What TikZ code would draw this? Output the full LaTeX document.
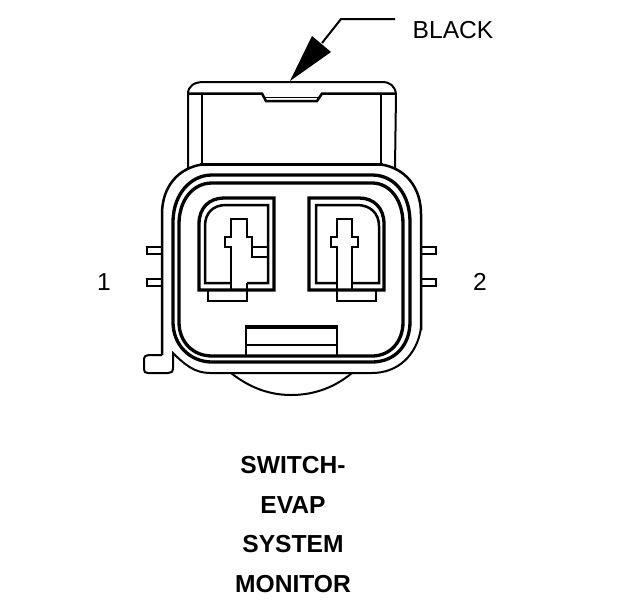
\documentclass[tikz,border=0pt]{standalone}
\usepackage{fontspec}
\setmainfont{Liberation Sans}
\tikzset{
  thinl/.style={line width=2pt,line join=miter,black},
  midl/.style={line width=2.5pt,line join=miter,black},
  thickl/.style={line width=3.3pt,line join=miter,black},
  lbl/.style={font=\fontsize{24.6}{24.6}\selectfont,inner sep=0pt,anchor=center},
  blbl/.style={font=\fontsize{24.6}{24.6}\selectfont\bfseries,inner sep=0pt,anchor=center}
}
\begin{document}
\begin{tikzpicture}[x=1pt,y=-1pt]
\useasboundingbox (0,0) rectangle (624,600);
% strap
\draw[thinl] (188,168) -- (188,94) .. controls (188,86) and (194,82) .. (204,82) -- (382,82) .. controls (390,82) and (395,86) .. (396,94) -- (395,168);
\draw[midl] (188,93.5) -- (262,93.5) -- (266,101) -- (317,101) -- (322,93.5) -- (396,93.5);
\draw[line width=1.5pt,black] (265,97.3) -- (318,97.3);
\draw[thinl] (202,93) -- (202,165);
\draw[thinl] (381,93) -- (381,165);
% outer body
\draw[midl] (162,355) -- (162,214) .. controls (162,187) and (178,168) .. (202,164.5);
\draw[midl] (421,330) -- (421,214) .. controls (421,187) and (405,168) .. (381,164.5);
\draw[thickl] (200,164.5) -- (383,164.5);
\draw[thinl] (421,328) .. controls (417,355) and (398,373) .. (372,373) -- (210,373) .. controls (195,373) and (185,365) .. (173,353) -- (173,368) .. controls (173,372) and (171,373) .. (168,373) -- (148,373) .. controls (145,373) and (144,372) .. (144,369) -- (144,360) .. controls (144,356) and (146,355) .. (149,355) -- (162,355);
% arc below
\draw[thinl] (231,373) .. controls (250,388) and (270,395) .. (291,395) .. controls (315,395) and (335,387) .. (352,373);
% rings
\draw[thickl] (173,222) .. controls (173,195) and (190,175) .. (212,175) -- (372,175) .. controls (395,175) and (410,195) .. (410,222) -- (410,322) .. controls (410,345) and (395,362) .. (372,362) -- (212,362) .. controls (190,362) and (173,345) .. (173,322) -- cycle;
\draw[thickl] (179,224) .. controls (179,200) and (193,183) .. (212,183) -- (372,183) .. controls (390,183) and (403,200) .. (403,224) -- (403,322) .. controls (403,342) and (390,356) .. (372,356) -- (212,356) .. controls (193,356) and (179,342) .. (179,322) -- cycle;
% side tabs
\draw[thinl] (162,247) -- (147,247) -- (147,254) -- (162,254);
\draw[thinl] (162,279) -- (147,279) -- (147,286) -- (162,286);
\draw[thinl] (421,247) -- (436,247) -- (436,254) -- (421,254);
\draw[thinl] (421,279) -- (436,279) -- (436,286) -- (421,286);
% left cavity
\draw[thickl] (199,290) -- (199,224) .. controls (199,208) and (209,198) .. (224,198) -- (274,198) -- (274,290) -- cycle;
\draw[midl] (231,283) -- (205,283) -- (205,226) .. controls (205,213) and (213,205) .. (226,205) -- (268,205) -- (268,283) -- (247,283);
\draw[midl] (231,290) -- (231,247) -- (225,247) -- (225,237) -- (231,237) -- (231,219) -- (247,219) -- (247,237) -- (252,237) -- (252,247) -- (268,247);
\draw[thinl] (252,247) -- (252,257) -- (268,257);
\draw[thinl] (247,283) -- (247,301) -- (208,301) -- (208,290);
% right cavity
\draw[thickl] (309,290) -- (309,198) -- (359,198) .. controls (374,198) and (384,208) .. (384,224) -- (384,290) -- cycle;
\draw[midl] (337,283) -- (316,283) -- (316,205) -- (357,205) .. controls (370,205) and (379,213) .. (379,226) -- (379,283) -- (352,283);
\draw[midl] (337,290) -- (337,247) -- (331,247) -- (331,237) -- (337,237) -- (337,219) -- (352,219) -- (352,237) -- (358,237) -- (358,247) -- (352,247) -- (352,290);
\draw[thinl] (337,290) -- (337,301) -- (376,301) -- (376,290);
% centre block
\draw[thinl] (246,356) -- (246,327);
\draw[thinl] (337,356) -- (337,327);
\draw[thickl] (245,327) -- (338,327);
\draw[thinl] (246,345) -- (337,345);
% arrow
\fill[black] (290,81) -- (312,36) -- (331,52) -- cycle;
\draw[thinl] (322,43) -- (341,19) -- (395,19);
% labels
\node[lbl] (black) at (453,30) {BLACK};
\node[lbl] (one) at (104,282) {1};
\node[lbl] (two) at (480,282) {2};
\node[blbl] (t1) at (293,465) {SWITCH-};
\node[blbl] (t2) at (293,505) {EVAP};
\node[blbl] (t3) at (293,544) {SYSTEM};
\node[blbl] (t4) at (293,584) {MONITOR};
\end{tikzpicture}
\end{document}
